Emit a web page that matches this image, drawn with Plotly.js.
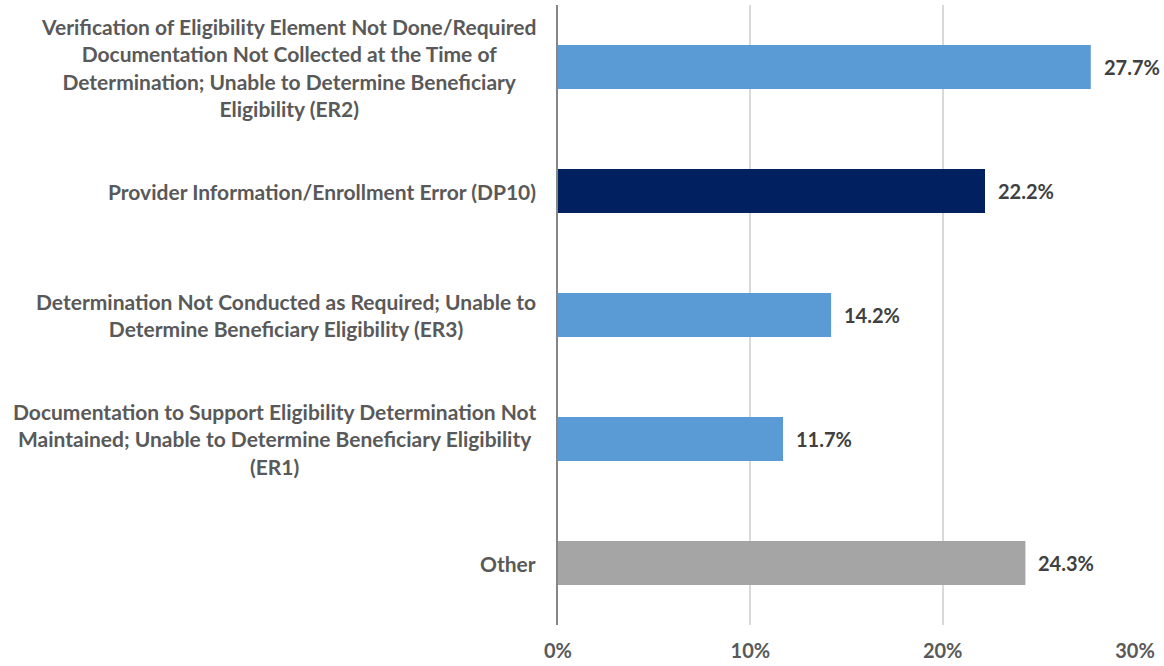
<!DOCTYPE html>
<html>
<head>
<meta charset="utf-8">
<script src="https://cdn.plot.ly/plotly-3.0.1.min.js"></script>
<style>html,body{margin:0;padding:0;background:#fff;}#chart{width:1164px;height:666px;}</style>
</head>
<body>
<div id="chart"></div>
<script>
var categories = [
  "Verification of Eligibility Element Not Done/Required<br>Documentation Not Collected at the Time of<br>Determination; Unable to Determine Beneficiary<br>Eligibility (ER2)",
  "Provider Information/Enrollment Error (DP10)",
  "Determination Not Conducted as Required; Unable to<br>Determine Beneficiary Eligibility (ER3)",
  "Documentation to Support Eligibility Determination Not<br>Maintained; Unable to Determine Beneficiary Eligibility<br>(ER1)",
  "Other"
];
var values = [27.7, 22.2, 14.2, 11.7, 24.3];
var valueLabels = ["27.7%", "22.2%", "14.2%", "11.7%", "24.3%"];
var barColors = ["#5B9BD5", "#002060", "#5B9BD5", "#5B9BD5", "#A5A5A5"];
var tickVals = [0, 10, 20, 30];
var tickText = ["0%", "10%", "20%", "30%"];

var FONT = "Lato, 'Open Sans', sans-serif";

var trace = {
  type: "bar",
  orientation: "h",
  x: values,
  y: categories,
  marker: {color: barColors, line: {width: 0}},
  hoverinfo: "none"
};

var annotations = [];
categories.forEach(function (c, i) {
  annotations.push({
    xref: "paper", yref: "y", x: 0, y: c,
    xanchor: "right", yanchor: "middle", xshift: -20,
    text: "<b>" + c + "</b>", align: "center", showarrow: false,
    font: {family: FONT, size: 21, color: "#595959"}
  });
  annotations.push({
    xref: "x", yref: "y", x: values[i], y: c,
    xanchor: "left", yanchor: "middle", xshift: 11,
    text: "<b>" + valueLabels[i] + "</b>", showarrow: false,
    font: {family: FONT, size: 20, color: "#404040"}
  });
});

var layout = {
  width: 1164, height: 666,
  margin: {l: 558, r: 28, t: 5, b: 41},
  paper_bgcolor: "#fff", plot_bgcolor: "#fff",
  showlegend: false,
  bargap: 0.645,
  font: {family: FONT, color: "#595959"},
  xaxis: {
    range: [0, 30.05], tickvals: tickVals, ticktext: tickText,
    showgrid: true, gridcolor: "#D9D9D9", gridwidth: 2,
    zeroline: false, showline: false,
    ticks: "outside", ticklen: 8, tickcolor: "rgba(0,0,0,0)",
    tickfont: {family: FONT, size: 20, color: "#595959", weight: "bold"},
    fixedrange: true
  },
  yaxis: {
    autorange: "reversed", showticklabels: false,
    showline: true, linecolor: "#868686", linewidth: 2,
    showgrid: false, zeroline: false, fixedrange: true
  },
  annotations: annotations
};

Plotly.newPlot("chart", [trace], layout, {displayModeBar: false, staticPlot: true});
</script>
</body>
</html>
